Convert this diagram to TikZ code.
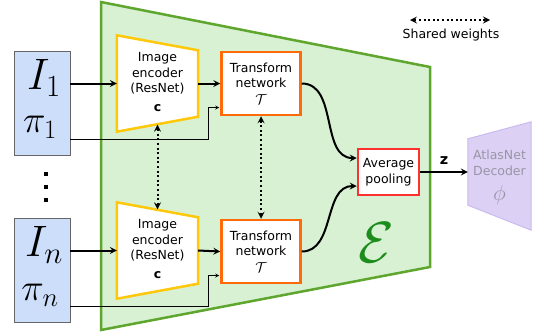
\RequirePackage{fix-cm}
\documentclass[tikz,border=0pt]{standalone}
\usepackage{fontspec}
\setmainfont{DejaVu Sans}
\usetikzlibrary{positioning,arrows,calc}
\definecolor{encgreen}{HTML}{D7F1D2}
\definecolor{encborder}{HTML}{5FA62E}
\definecolor{inputblue}{HTML}{CCDEFA}
\definecolor{resyellow}{HTML}{FFC80A}
\definecolor{trorange}{HTML}{FF6A0A}
\definecolor{poolred}{HTML}{FF3030}
\definecolor{decfill}{HTML}{DCD1F5}
\definecolor{decborder}{HTML}{C9BBEE}
\definecolor{decgray}{HTML}{9A94A6}
\definecolor{calgreen}{HTML}{1C8C1C}

\begin{document}
\begin{tikzpicture}[x=1pt,y=-1pt,font=\fontsize{12.5}{15.5}\selectfont,
		inbox/.style={rectangle,draw=black!60,fill=inputblue,minimum width=56pt,minimum height=104pt,inner sep=0pt},
		encbox/.style={rectangle,minimum width=81pt,minimum height=96pt,inner sep=0pt,align=center},
		trbox/.style={rectangle,draw=trorange,line width=2.5pt,fill=white,minimum width=79pt,minimum height=63pt,inner sep=0pt,align=center},
		fat/.style={line width=2pt,-stealth},
		pose/.style={line width=0.8pt,-stealth},
		shared/.style={line width=2pt,dash pattern=on 2pt off 2.6pt,stealth-stealth}]
	\useasboundingbox (0,0) rectangle (537,333);
	\draw[encborder,fill=encgreen,line width=2.5pt] (101,2) -- (430,67) -- (430,267) -- (101,330) -- cycle;
	\node[calgreen,font=\fontsize{58}{58}\selectfont] (enc) at (376,243) {$\mathcal{E}$};
	\node[inbox] (in1) at (42,103) {};
	\node[inbox] (in2) at (42,270.5) {};
	\node[font=\fontsize{44}{44}\selectfont] (img1) at (44,78) {$I_1$};
	\node[font=\fontsize{38}{38}\selectfont] (pi1) at (40,127) {$\pi_1$};
	\node[font=\fontsize{44}{44}\selectfont] (img2) at (44,245) {$I_n$};
	\node[font=\fontsize{38}{38}\selectfont] (pi2) at (40,295) {$\pi_n$};
	\foreach \y in {174,187,200}
		\node[rectangle,fill=black,minimum size=4pt,inner sep=0pt] (dot\y) at (46,\y) {};
	\node[encbox] (enc1) at (157.5,83.5) {};
	\node[encbox] (enc2) at (157.5,250.5) {};
	\foreach \e in {enc1,enc2}
		\draw[resyellow,fill=white,line width=2.5pt] (\e.north west) -- ($(\e.north east)+(0,15)$) -- ($(\e.south east)+(0,-15)$) -- (\e.south west) -- cycle;
	\node[align=center] at ($(enc1)+(0,-10)$) {Image\\encoder\\(ResNet)};
	\node at ($(enc1)+(0,25)$) {$\mathbf{c}$};
	\node[align=center] at ($(enc2)+(0,-10)$) {Image\\encoder\\(ResNet)};
	\node at ($(enc2)+(0,25)$) {$\mathbf{c}$};
	\node[trbox] (tr1) at (261,83.5) {Transform\\network\\[1pt]{\Large$\mathcal{T}$}};
	\node[trbox] (tr2) at (261,251.5) {Transform\\network\\[1pt]{\Large$\mathcal{T}$}};
	\node[rectangle,draw=poolred,line width=2.5pt,fill=white,minimum width=61pt,minimum height=46pt,inner sep=0pt,align=center] (pool) at (388.5,172) {Average\\pooling};
	\node[rectangle,minimum width=63pt,minimum height=108pt,inner sep=0pt] (dec) at (499.5,176) {};
	\draw[decborder,fill=decfill,line width=1pt] ($(dec.north west)+(0,17)$) -- (dec.north east) -- (dec.south east) -- ($(dec.south west)+(0,-25)$) -- cycle;
	\node[decgray,align=center] (dectext) at ($(dec)+(0,-13)$) {AtlasNet\\Decoder};
	\node[decgray,font=\fontsize{22}{22}\selectfont] (phi) at ($(dec)+(0,19)$) {$\phi$};
	\draw[fat] (in1.east |- enc1.west) -- (enc1.west);
	\draw[fat] (in2.east |- enc2.west) -- (enc2.west);
	\draw[fat] (enc1.east) -- (tr1.west);
	\draw[fat] (enc2.east) -- (tr2.west);
	\draw[pose] ($(in1.south east)+(0,-16)$) -| ($(tr1.west)+(-12,24)$) -- ($(tr1.west)+(-1,24)$);
	\draw[pose] ($(in2.south east)+(0,-16)$) -| ($(tr2.west)+(-12,24)$) -- ($(tr2.west)+(-1,24)$);
	\draw[fat] (tr1.east) to[out=0,in=180] ($(pool.west)+(0,-14)$);
	\draw[fat] (tr2.east) to[out=0,in=180] ($(pool.west)+(0,14)$);
	\draw[fat] (pool.east) -- (pool.east -| dec.west) node[midway,above=3pt,font=\Large] (z) {$\mathbf{z}$};
	\draw[shared] ($(enc1.south)+(0,-7)$) -- ($(enc2.north)+(0,7)$);
	\draw[shared] (tr1.south) -- (tr2.north);
	\coordinate (lgl) at (410,20);
	\coordinate (lgr) at (490,20);
	\draw[shared] (lgl) -- (lgr);
	\node (lg) at (451,35) {Shared weights};
\end{tikzpicture}
\end{document}
